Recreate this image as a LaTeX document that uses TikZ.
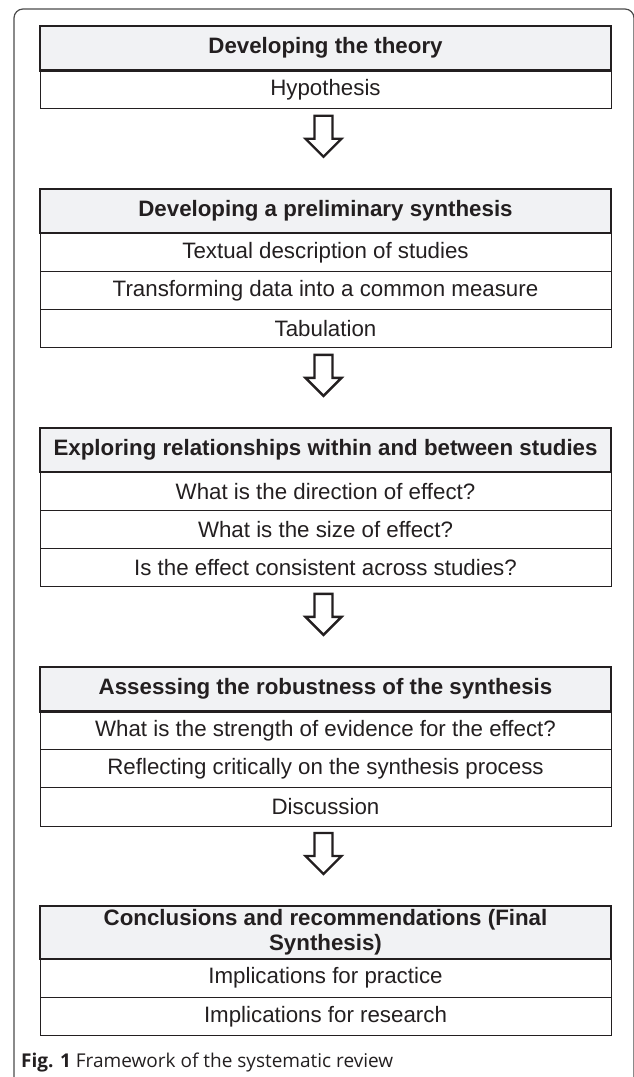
\documentclass[tikz,border=0pt]{standalone}
\usepackage{fontspec}
\setmainfont{Liberation Sans}
\newfontfamily\captionfont{Open Sans}
\usetikzlibrary{positioning}
\definecolor{headgray}{RGB}{241,242,244}
\definecolor{inkdark}{RGB}{35,31,32}
\newcommand{\blockarrow}[1]{\draw[arrowshape] ([xshift=-2pt,yshift=-7pt]#1.south) ++(-9,0) -- ++(0,23) -- ++(-9,0) -- ++(18,18) -- ++(18,-18) -- ++(-9,0) -- ++(0,-23) -- cycle;}

\begin{document}
\begin{tikzpicture}[x=1pt,y=-1pt]
\tikzstyle{header}=[draw=inkdark, line width=2.2pt, fill=headgray, minimum width=571pt, minimum height=44.5pt, inner sep=0pt, outer sep=0pt, text=inkdark, font=\fontsize{22.3}{25}\selectfont\bfseries, align=center]
\tikzstyle{row}=[draw=inkdark, line width=1pt, minimum width=571pt, minimum height=38.2pt, inner sep=0pt, outer sep=0pt, text=inkdark, font=\fontsize{22.3}{25}\selectfont]
\tikzstyle{arrowshape}=[draw=inkdark, line width=2.4pt, line join=miter]
\tikzstyle{frame}=[draw=black!70, line width=1.2pt, rounded corners=9pt]
\useasboundingbox (0,0) rectangle (633,1077);
\draw[frame] (14,1077) -- (14,9) -- (634,9) -- (634,1077);

\node[header, anchor=north] (theory) at (325.5,26) {Developing the theory};
\node[row, below=0pt of theory] (hypothesis) {Hypothesis};
\blockarrow{hypothesis}

\node[header, below=80pt of hypothesis] (preliminary) {Developing a preliminary synthesis};
\node[row, below=0pt of preliminary] (textual) {Textual description of studies};
\node[row, below=0pt of textual] (transforming) {Transforming data into a common measure};
\node[row, below=0pt of transforming] (tabulation) {Tabulation};
\blockarrow{tabulation}

\node[header, below=80pt of tabulation] (exploring) {Exploring relationships within and between studies};
\node[row, below=0pt of exploring] (direction) {What is the direction of effect?};
\node[row, below=0pt of direction] (size) {What is the size of effect?};
\node[row, below=0pt of size] (consistent) {Is the effect consistent across studies?};
\blockarrow{consistent}

\node[header, below=80pt of consistent] (robustness) {Assessing the robustness of the synthesis};
\node[row, below=0pt of robustness] (strength) {What is the strength of evidence for the effect?};
\node[row, below=0pt of strength] (reflecting) {Reflecting critically on the synthesis process};
\node[row, below=0pt of reflecting] (discussion) {Discussion};
\blockarrow{discussion}

\node[header, minimum height=53pt, below=80pt of discussion] (conclusions) {Conclusions and recommendations (Final\\Synthesis)};
\node[row, below=0pt of conclusions] (practice) {Implications for practice};
\node[row, below=0pt of practice] (research) {Implications for research};

\node[anchor=base west, inner sep=0pt, text=inkdark, font=\captionfont\fontsize{19}{22}\selectfont] (caption) at (21,1067) {\textbf{Fig. 1} Framework of the systematic review};
\end{tikzpicture}
\end{document}
